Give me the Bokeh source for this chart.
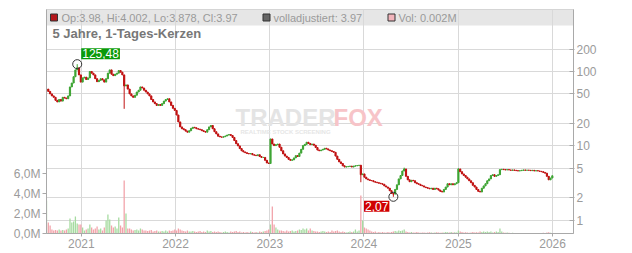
import pandas as pd
from bokeh.plotting import figure
from bokeh.models import (Range1d, LinearAxis, LinearScale, FixedTicker, CustomJSTickFormatter,
                          BoxAnnotation, Label, ColumnDataSource)
from bokeh.embed import file_html
from bokeh.resources import INLINE

# ---------------- data (weekly candles) ----------------
start_date = "2020-08-19"
first_open = 56.0
closes = [
    58, 54, 50, 47, 45, 41, 39, 42, 40, 45,
    44, 43, 47, 62, 70, 85, 105, 112, 90, 72,
    82, 84, 78, 82, 100, 95, 90, 80, 73, 76,
    80, 77, 72, 80, 95, 105, 92, 88, 92, 95,
    103, 98, 90, 64, 66, 58, 50, 47, 45, 48,
    53, 56, 62, 60, 56, 53, 50, 47, 42, 39,
    37, 35, 36, 35, 37, 40, 42, 43, 39, 35,
    32, 30, 26, 21, 18, 17, 16.5, 15.8, 15.3, 16,
    17.2, 17.8, 17.5, 17, 16.8, 16.5, 16, 15.6, 15.3, 16.5,
    18, 18.8, 17, 15.5, 14.5, 13.5, 13.2, 13.1, 13.3, 13.6,
    14, 14.2, 13.8, 13, 11.8, 10.7, 10, 9.2, 8.6, 8.3,
    8.1, 7.9, 7.8, 7.9, 7.6, 7.5, 7.4, 7.6, 7.2, 7.0,
    7.0, 6.4, 5.9, 5.8, 12.4, 10.6, 10.1, 10.4, 10.6, 9.6,
    8.6, 7.8, 7.3, 7.0, 6.6, 6.4, 6.5, 6.9, 7.4, 7.2,
    8.0, 9.0, 10.1, 10.5, 11.2, 10.8, 10.4, 10.6, 10.2, 9.5,
    8.8, 8.6, 8.8, 9.0, 9.3, 9.1, 8.8, 8.6, 8.4, 8.2,
    7.3, 6.6, 6.1, 5.8, 5.4, 5.2, 5.25, 5.3, 5.35, 5.2,
    5.35, 5.4, 5.45, 5.5, 4.1, 4.2, 3.8, 3.6, 3.5, 3.43,
    3.4, 3.3, 3.25, 3.2, 3.15, 3.1, 3.05, 2.9, 2.8, 2.7,
    2.5, 2.3, 2.25, 2.6, 3.0, 3.6, 4.0, 4.6, 4.9, 3.9,
    3.5, 3.3, 3.45, 3.4, 3.2, 3.1, 3.05, 2.95, 2.9, 2.8,
    2.75, 2.7, 2.65, 2.7, 2.6, 2.7, 2.65, 2.55, 2.45, 2.4,
    2.6, 2.8, 3.1, 3.0, 3.1, 3.0, 3.1, 3.2, 4.9, 4.5,
    4.2, 4.0, 3.8, 3.6, 3.4, 3.2, 2.95, 2.8, 2.6, 2.45,
    2.4, 2.7, 2.9, 3.1, 3.4, 3.6, 4.0, 4.1, 3.9, 4.0,
    4.1, 4.8, 4.85, 4.8, 4.75, 4.8, 4.75, 4.7, 4.75, 4.7,
    4.65, 4.6, 4.65, 4.7, 4.75, 4.7, 4.72, 4.7, 4.65, 4.7,
    4.6, 4.65, 4.6, 4.55, 4.5, 4.4, 4.3, 3.9, 3.5, 3.7,
    3.97,
]
wick_highs = {17: 125.48, 198: 5.1, 228: 5.0}
wick_lows = {43: 31.5, 174: 3.25, 192: 2.07}
volumes_m = [
    3.3, 1.1, 0.8, 0.4, 0.3, 0.35, 0.3, 0.4, 0.3, 0.35,
    0.3, 0.4, 0.5, 1.5, 1.1, 1.2, 1.7, 1.0, 0.9, 0.9,
    0.6, 0.3, 0.4, 0.5, 0.9, 0.6, 0.4, 0.5, 0.7, 0.4,
    0.5, 0.3, 0.6, 1.3, 1.9, 1.4, 0.8, 0.6, 0.7, 0.5,
    1.6, 0.8, 0.6, 5.3, 2.0, 0.5, 0.5, 0.4, 0.3, 0.35,
    0.4, 0.3, 0.5, 0.4, 0.3, 0.3, 0.25, 0.3, 0.35, 0.2,
    0.25, 0.3, 0.2, 0.2, 0.25, 0.2, 0.3, 0.2, 0.3, 0.25,
    0.3, 0.4, 0.3, 0.5, 0.4, 0.3, 0.25, 0.2, 0.3, 0.2,
    0.2, 0.25, 0.2, 0.15, 0.2, 0.25, 0.15, 0.2, 0.15, 0.3,
    0.2, 0.25, 0.15, 0.2, 0.15, 0.2, 0.15, 0.1, 0.15, 0.2,
    0.15, 0.1, 0.2, 0.15, 0.2, 0.25, 0.15, 0.2, 0.1, 0.15,
    0.1, 0.15, 0.1, 0.2, 0.15, 0.1, 0.15, 0.1, 0.2, 0.15,
    0.2, 0.25, 0.3, 0.4, 0.9, 2.7, 0.9, 0.6, 0.4, 0.3,
    0.3, 0.25, 0.2, 0.3, 0.2, 0.25, 0.3, 0.2, 0.25, 0.3,
    0.4, 0.35, 0.5, 0.4, 0.5, 0.3, 0.5, 0.3, 0.25, 0.2,
    0.2, 0.15, 0.2, 0.25, 0.2, 0.15, 0.2, 0.15, 0.3, 0.2,
    0.25, 0.3, 0.2, 0.15, 0.2, 0.15, 0.1, 0.15, 0.2, 0.15,
    0.2, 0.4, 0.2, 0.3, 3.8, 1.3, 0.6, 0.5, 0.4, 0.3,
    0.2, 0.15, 0.2, 0.1, 0.15, 0.1, 0.15, 0.1, 0.1, 0.15,
    0.1, 0.15, 0.2, 0.25, 0.2, 0.3, 0.25, 0.3, 0.4, 0.2,
    0.15, 0.1, 0.15, 0.1, 0.1, 0.15, 0.1, 0.08, 0.1, 0.1,
    0.08, 0.1, 0.12, 0.1, 0.08, 0.1, 0.12, 0.1, 0.08, 0.1,
    0.1, 0.15, 0.12, 0.1, 0.15, 0.1, 0.12, 0.1, 0.3, 0.2,
    0.15, 0.1, 0.12, 0.1, 0.08, 0.1, 0.15, 0.1, 0.12, 0.1,
    0.2, 0.15, 0.2, 0.15, 0.2, 0.15, 0.2, 0.1, 0.15, 0.2,
    0.15, 0.5, 0.2, 0.1, 0.08, 0.1, 0.08, 0.06, 0.08, 0.06,
    0.05, 0.06, 0.05, 0.06, 0.05, 0.06, 0.05, 0.05, 0.06, 0.05,
    0.05, 0.06, 0.05, 0.06, 0.05, 0.08, 0.06, 0.1, 0.12, 0.08,
    0.002,
]
price_ticks = [1, 2, 5, 10, 20, 50, 100, 200]
volume_ticks_m = [0, 2, 4, 6]
year_ticks = [2021, 2022, 2023, 2024, 2025, 2026]
legend_ohlc = "Op:3.98, Hi:4.002, Lo:3.878, Cl:3.97"
legend_adj = "volladjustiert: 3.97"
legend_vol = "Vol: 0.002M"
title_text = "5 Jahre, 1-Tages-Kerzen"

# ---------------- derived table ----------------
n = len(closes)
dates = pd.date_range(start_date, periods=n, freq="7D")
opens = [first_open] + closes[:-1]
highs = [wick_highs.get(i, max(o, c)) for i, (o, c) in enumerate(zip(opens, closes))]
lows = [wick_lows.get(i, min(o, c)) for i, (o, c) in enumerate(zip(opens, closes))]
up = [c >= o for o, c in zip(opens, closes)]
GREEN, RED = "#3fa535", "#c01212"
VGREEN, VRED = "#a6dba0", "#f2a3aa"
src = ColumnDataSource(dict(
    date=dates, open=opens, close=closes, high=highs, low=lows,
    top=[max(o, c) for o, c in zip(opens, closes)],
    bottom=[min(o, c) for o, c in zip(opens, closes)],
    color=[GREEN if u else RED for u in up],
    vol=volumes_m,
    vcolor=[VGREEN if u else VRED for u in up],
))

# ---------------- layout helpers ----------------
X_START = pd.Timestamp("2020-08-19")
X_END = pd.Timestamp("2026-03-23")
FL, FR, FT, FB = 46, 573, 9, 233
VOL_TOP = 22.4
ms = lambda t: t.value // 10**6
def px_x(px):
    return ms(X_START) + (px - FL) / (FR - FL) * (ms(X_END) - ms(X_START))
def px_v(py):
    return (FB - py) / (FB - FT) * VOL_TOP

p = figure(width=632, height=253, output_backend="svg", toolbar_location=None,
           x_axis_type="datetime", y_axis_type="log", y_axis_location="right",
           x_range=Range1d(X_START, X_END), y_range=Range1d(0.665, 681),
           min_border_left=FL, min_border_right=632 - FR, min_border_top=FT,
           min_border_bottom=253 - FB)
p.extra_y_ranges = {"vol": Range1d(0, VOL_TOP)}
p.extra_y_scales = {"vol": LinearScale()}
p.outline_line_color = "#cfcfcf"
p.background_fill_color = "white"
p.border_fill_color = "white"

FONT = "Liberation Sans"
AX = "#a9a9a9"
TXT = "#9b9b9b"

# price axis (right)
pax = p.yaxis[0]
pax.ticker = FixedTicker(ticks=price_ticks)
pax.formatter = CustomJSTickFormatter(code="return String(tick);")
# time axis
xax = p.xaxis[0]
xax.ticker = FixedTicker(ticks=[ms(pd.Timestamp(f"{y}-01-01")) for y in year_ticks])
xax.formatter = CustomJSTickFormatter(code="return String(new Date(tick).getUTCFullYear());")
# volume axis (left)
vax = LinearAxis(y_range_name="vol", ticker=FixedTicker(ticks=volume_ticks_m),
                 formatter=CustomJSTickFormatter(code="return tick.toFixed(1).replace('.', ',') + 'M';"))
p.add_layout(vax, "left")

for ax in (pax, xax, vax):
    ax.axis_line_color = AX
    ax.major_tick_line_color = AX
    ax.minor_tick_line_color = None
    ax.major_label_text_color = TXT
    ax.major_label_text_font = FONT
    ax.major_label_text_font_size = "12px"
    ax.major_label_standoff = 2
pax.major_tick_in, pax.major_tick_out = 4, 1
vax.major_tick_in, vax.major_tick_out = 0, 4
xax.major_tick_in, xax.major_tick_out = 0, 3

p.xgrid.grid_line_color = "#d9d9d9"
p.ygrid.grid_line_color = "#d9d9d9"

# legend band (under the grid)
p.add_layout(BoxAnnotation(bottom=px_v(25), y_range_name="vol", fill_color="#e6e6e6",
                           fill_alpha=1, line_color=None, level="image"))

# watermark
for txt, xpx, col in (("TRADER", 235, "#e4e4e4"), ("FOX", 333, "#f7c4c8")):
    p.add_layout(Label(x=px_x(xpx), y=px_v(117), y_range_name="vol", text=txt,
                       text_font=FONT, text_font_style="bold", text_font_size="24px",
                       text_color=col, text_baseline="middle", level="underlay"))
p.add_layout(Label(x=px_x(240), y=px_v(131), y_range_name="vol", text="REALTIME STOCK SCREENING",
                   text_font=FONT, text_font_style="bold", text_font_size="6px",
                   text_color="#e6e6e6", text_baseline="middle", level="underlay"))

# volume bars
W = 5 * 24 * 3600 * 1000
p.vbar(x="date", width=W, top="vol", bottom=0, y_range_name="vol", source=src,
       fill_color="vcolor", line_color=None)

# candles
p.segment(x0="date", y0="low", x1="date", y1="high", line_color="color", line_width=1, source=src)
p.vbar(x="date", width=int(4.5 * 24 * 3600 * 1000), top="top", bottom="bottom", source=src,
       fill_color="color", line_color="color", line_width=1)

# extremes
imax = max(range(n), key=lambda i: highs[i])
imin = min(range(n), key=lambda i: lows[i])
p.scatter(x=[dates[imax], dates[imin]], y=[highs[imax], lows[imin]], marker="circle", size=9,
          fill_color=None, line_color="#333333", line_width=1)
p.add_layout(Label(x=ms(dates[imax]), y=highs[imax], text=f"{highs[imax]:.2f}".replace(".", ","),
                   x_offset=4, y_offset=5, text_align="left", text_baseline="bottom",
                   text_font=FONT, text_font_size="12px", text_color="white",
                   background_fill_color="#0a9a0a", padding=1))
p.add_layout(Label(x=ms(dates[imin]), y=lows[imin], text=f"{lows[imin]:.2f}".replace(".", ","),
                   x_offset=-4, y_offset=-4, text_align="right", text_baseline="top",
                   text_font=FONT, text_font_size="12px", text_color="white",
                   background_fill_color="#d00000", padding=1))

# legend row
p.scatter(x=[px_x(53.5), px_x(266), px_x(391)], y=[px_v(17)] * 3, y_range_name="vol",
          marker="square", size=7, fill_color=["#b3161b", "#666666", "#f2b4bb"],
          line_color="#333333", line_width=1)
for txt, xpx in ((legend_ohlc, 61), (legend_adj, 273), (legend_vol, 398)):
    p.add_layout(Label(x=px_x(xpx), y=px_v(17), y_range_name="vol", text=txt,
                       text_font=FONT, text_font_size="11px", text_color="#9a9a9a",
                       text_baseline="middle"))
p.add_layout(Label(x=px_x(52), y=px_v(33), y_range_name="vol", text=title_text,
                   text_font=FONT, text_font_size="13px", text_font_style="bold",
                   text_color="#777777", text_baseline="middle"))

open("out.html", "w").write(file_html(p, INLINE))
